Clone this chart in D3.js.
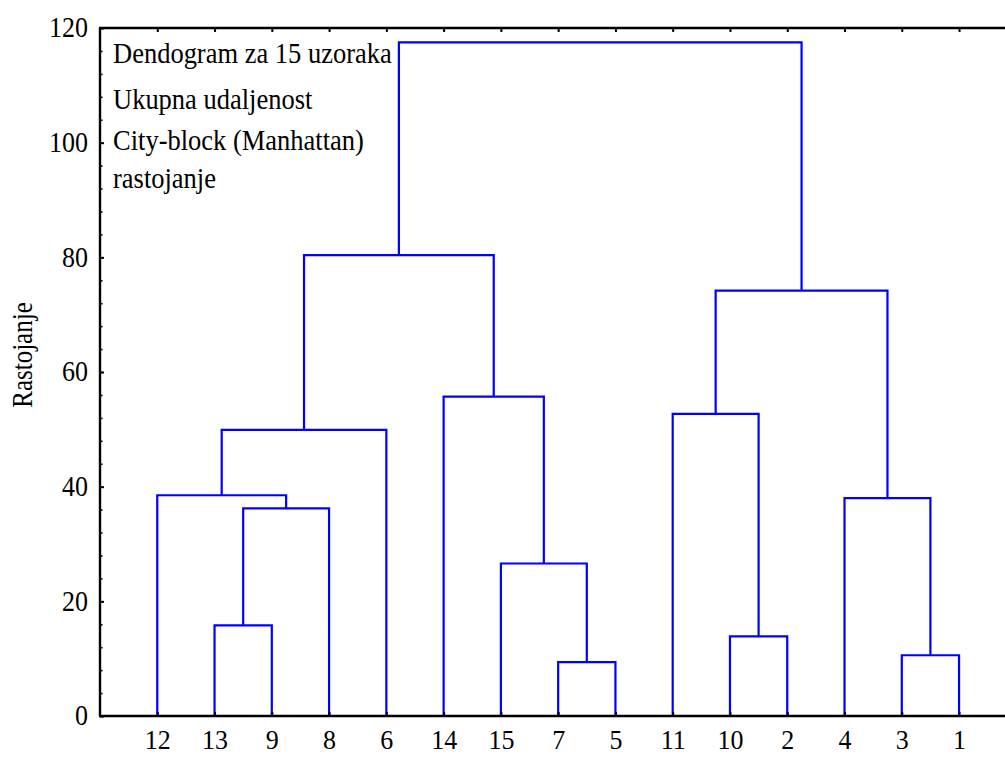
<!DOCTYPE html>
<html>
<head>
<meta charset="utf-8">
<script src="https://cdn.jsdelivr.net/npm/d3@7"></script>
<style>
  html, body { margin: 0; padding: 0; background: #fff; }
  svg { display: block; }
  text { font-family: "Liberation Serif", "Times New Roman", serif; fill: #000; }
</style>
</head>
<body>
<svg id="chart" width="1005" height="757"></svg>
<script>
// Leaf order along the horizontal axis
const leafLabels = ["12", "13", "9", "8", "6", "14", "15", "7", "5", "11", "10", "2", "4", "3", "1"];

// Agglomeration steps: nodes 0..14 are leaves (by position), each merge creates node 15, 16, ...
const mergeLeft   = [1, 7, 10, 13, 15, 0, 20, 6, 5, 21, 9, 12, 25, 24];
const mergeRight  = [2, 8, 11, 14, 3, 19, 4, 16, 22, 23, 17, 18, 26, 27];
const mergeHeight = [15.8, 9.4, 13.9, 10.6, 36.2, 38.5, 49.9, 26.6, 55.7, 80.4, 52.7, 38.0, 74.2, 117.5];

const yTicks = [0, 20, 40, 60, 80, 100, 120];
const noteLines = ["Dendogram za 15 uzoraka", "Ukupna udaljenost", "City-block (Manhattan)", "rastojanje"];
const yTitle = "Rastojanje";

const svg = d3.select("#chart");
const plotLeft = 100, plotTop = 28, plotBottom = 716, step = 57.27;
const plotRight = plotLeft + step * (leafLabels.length + 1);

const x = d3.scaleLinear().domain([0, leafLabels.length + 1]).range([plotLeft, plotRight]);
const y = d3.scaleLinear().domain([0, 120]).range([plotBottom, plotTop]);

// node positions: leaves first, then merges in order
const nodeX = leafLabels.map((_, i) => x(i + 1));
const nodeH = leafLabels.map(() => 0);
mergeLeft.forEach((a, k) => {
  const b = mergeRight[k];
  nodeX.push((nodeX[a] + nodeX[b]) / 2);
  nodeH.push(mergeHeight[k]);
});

// dendrogram links
svg.append("g")
  .selectAll("path")
  .data(mergeLeft.map((a, k) => ({ a, b: mergeRight[k], h: mergeHeight[k] })))
  .join("path")
  .attr("fill", "none")
  .attr("stroke", "#0000ff")
  .attr("stroke-width", 2.2)
  .attr("d", d => `M${nodeX[d.a]},${y(nodeH[d.a])}V${y(d.h)}H${nodeX[d.b]}V${y(nodeH[d.b])}`);

// left axis: minor ticks every 4 units, major ticks every 20
const minor = d3.range(0, 121, 4);
svg.append("g")
  .attr("transform", `translate(${plotLeft},0)`)
  .call(d3.axisLeft(y).tickValues(minor).tickSize(-2.5).tickFormat(""))
  .call(g => g.select(".domain").remove())
  .call(g => g.selectAll("line").attr("stroke", "#000").attr("stroke-width", 1.6));

svg.append("g")
  .attr("transform", `translate(${plotLeft},0)`)
  .call(d3.axisLeft(y).tickValues(yTicks).tickSize(-4).tickPadding(12).tickFormat(d3.format("d")))
  .call(g => g.select(".domain").remove())
  .call(g => g.selectAll("line").attr("stroke", "#000").attr("stroke-width", 2))
  .call(g => g.selectAll("text")
    .attr("font-size", 26)
    .attr("font-family", "Liberation Serif")
    .attr("dy", "0.3em")
    .attr("transform", "scale(1,1.12)"));

// bottom axis with leaf labels
const leafPos = leafLabels.map((_, i) => i + 1);
svg.append("g")
  .attr("transform", `translate(0,${plotBottom})`)
  .call(d3.axisBottom(x).tickValues(leafPos).tickSize(-4).tickPadding(12)
    .tickFormat((d, i) => leafLabels[i]))
  .call(g => g.select(".domain").remove())
  .call(g => g.selectAll("line").attr("stroke", "#000").attr("stroke-width", 2))
  .call(g => g.selectAll("text")
    .attr("font-size", 26)
    .attr("font-family", "Liberation Serif")
    .attr("transform", "scale(1,1.08)"));

// top axis: ticks only
svg.append("g")
  .attr("transform", `translate(0,${plotTop})`)
  .call(d3.axisTop(x).tickValues(leafPos).tickSize(-4).tickFormat(""))
  .call(g => g.select(".domain").remove())
  .call(g => g.selectAll("line").attr("stroke", "#000").attr("stroke-width", 2));

// frame lines
const frame = svg.append("g").attr("stroke", "#000").attr("stroke-width", 2.4);
frame.append("line").attr("x1", plotLeft).attr("x2", plotLeft).attr("y1", plotTop).attr("y2", plotBottom);
frame.append("line").attr("x1", plotLeft - 1).attr("x2", plotRight).attr("y1", plotBottom).attr("y2", plotBottom);
frame.append("line").attr("x1", plotLeft - 1).attr("x2", plotRight).attr("y1", plotTop).attr("y2", plotTop);
frame.append("line").attr("x1", plotRight).attr("x2", plotRight).attr("y1", plotTop).attr("y2", plotBottom);

// axis title
svg.append("text")
  .attr("transform", `translate(32,355) rotate(-90) scale(1,1.15)`)
  .attr("text-anchor", "middle")
  .attr("font-size", 25)
  .text(yTitle);

// note block in the upper-left corner
const noteBase = [63, 109, 150, 188];
svg.append("g")
  .selectAll("text")
  .data(noteLines)
  .join("text")
  .attr("transform", (d, i) => `translate(113,${noteBase[i]}) scale(1,1.15)`)
  .attr("font-size", 26.5)
  .text(d => d);
</script>
</body>
</html>
